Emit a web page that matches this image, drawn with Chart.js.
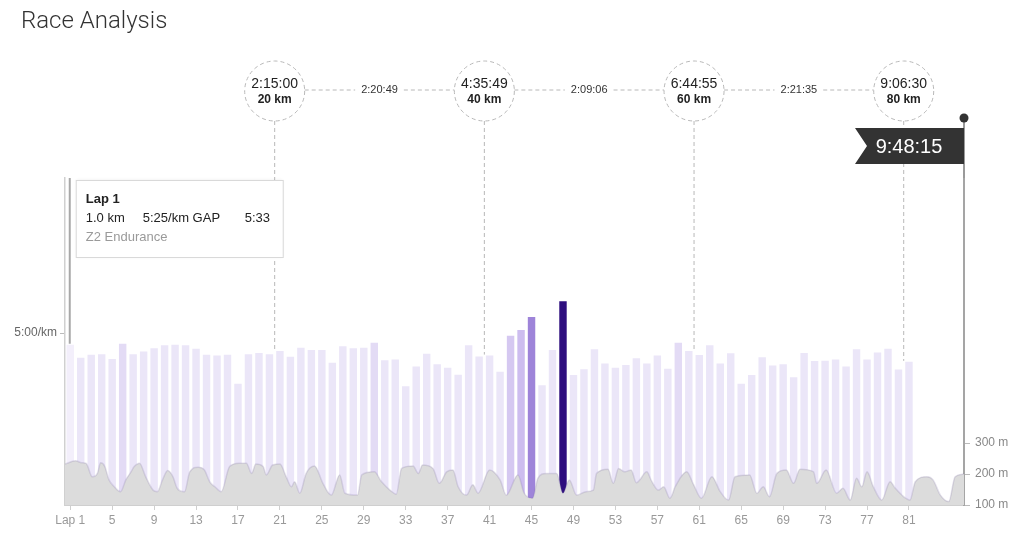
<!DOCTYPE html>
<html>
<head>
<meta charset="utf-8">
<title>Race Analysis</title>
<script src="https://cdn.jsdelivr.net/npm/chart.js@4.4.1/dist/chart.umd.min.js"></script>
<style>
  html, body { margin: 0; padding: 0; background: #fff; }
</style>
</head>
<body>
<canvas id="raceChart" width="1024" height="552"></canvas>
<script>
const chartTitle = 'Race Analysis';
const lapDistanceKm = 1.0;
const raceTotalKm = 85.75;
const finishTime = '9:48:15';

// grade adjusted pace per lap, seconds per km
const lapGapPace = [
  320, 348, 341, 340, 351, 318, 340, 334, 327, 321,
  320, 321, 328, 341, 343, 341, 422, 340, 337, 340,
  333, 346, 326, 331, 331, 360, 323, 327, 326, 316,
  354, 352, 431, 370, 339, 364, 373, 393, 321, 345,
  343, 384, 303, 293, 273, 427, 331, 252, 394, 377,
  329, 362, 373, 366, 349, 362, 343, 376, 316, 333,
  342, 321, 362, 338, 422, 394, 347, 367, 364, 401,
  337, 356, 355, 352, 370, 329, 352, 336, 328, 378,
  358
];

// elevation profile
const elevKm = [
  0, 1.0, 1.6, 2.0, 2.6, 3.1, 3.4, 3.8, 4.2, 4.7,
  5.3, 5.8, 6.3, 6.6, 7.1, 7.7, 8.4, 8.8, 9.3, 9.8,
  10.3, 10.7, 11.4, 11.9, 12.7, 13.3, 13.8, 14.3, 14.9, 15.7,
  16.6, 17.3, 17.8, 18.2, 18.9, 19.2, 19.8, 20.5, 21.1, 21.6,
  21.9, 22.4, 23.0, 23.8, 24.6, 25.4, 26.2, 26.7, 27.9, 28.3,
  29.5, 30.2, 31.0, 31.6, 32.1, 33.2, 33.7, 34.1, 35.1, 35.7,
  36.4, 37.0, 37.5, 38.3, 38.9, 39.4, 40.5, 41.5, 42.1, 43.2,
  43.8, 44.6, 45.1, 45.9, 46.9, 47.5, 48.1, 48.8, 49.7, 50.4,
  50.7, 51.8, 52.3, 52.8, 53.4, 54.0, 54.5, 55.5, 55.9, 56.6,
  57.1, 57.7, 58.2, 59.3, 59.9, 60.7, 61.7, 62.5, 63.3, 63.9,
  65.3, 66.0, 66.6, 67.2, 67.9, 68.8, 69.5, 70.1, 71.4, 71.7,
  72.6, 73.6, 74.2, 74.9, 75.5, 76.0, 76.5, 77.1, 77.9, 78.7,
  79.2, 80.0, 80.6, 81.1, 82.2, 82.8, 83.5, 84.3, 84.9, 85.75
];
const elevM = [
  232, 243, 236, 235, 191, 203, 236, 224, 181, 159,
  143, 181, 207, 224, 235, 191, 148, 143, 181, 211,
  191, 154, 143, 207, 222, 213, 175, 159, 143, 224,
  235, 235, 202, 232, 224, 197, 229, 232, 191, 159,
  175, 138, 202, 226, 170, 132, 197, 138, 132, 197,
  207, 175, 148, 135, 218, 226, 202, 229, 218, 170,
  207, 213, 159, 132, 165, 138, 213, 181, 132, 197,
  138, 122, 186, 202, 202, 138, 181, 132, 143, 148,
  202, 215, 170, 218, 207, 213, 172, 207, 181, 148,
  159, 122, 159, 207, 170, 122, 191, 143, 116, 191,
  197, 138, 159, 127, 202, 213, 170, 215, 207, 170,
  213, 138, 154, 116, 186, 159, 207, 159, 116, 175,
  154, 127, 116, 175, 191, 181, 132, 111, 191, 200
];

const splitKm = [20, 40, 60, 80];
const splitTimes = ['2:15:00', '4:35:49', '6:44:55', '9:06:30'];
const splitGaps = ['2:20:49', '2:09:06', '2:21:35'];

const lapTickNumbers = [1, 5, 9, 13, 17, 21, 25, 29, 33, 37, 41, 45, 49, 53, 57, 61, 65, 69, 73, 77, 81];
const paceTickSec = [300];
const paceTickLabels = ['5:00/km'];
const elevTicks = [100, 200, 300];

// hovered lap info box
const hoverLap = 1;
const hoverRow = ['1.0 km', '5:25/km GAP', '5:33'];
const hoverZone = 'Z2 Endurance';

const FONT = "'Liberation Sans', Arial, sans-serif";
const toSpeed = s => 3600 / s;

function lapColor(pace, i) {
  if (i + 1 === hoverLap) return '#f3effb';
  if (pace < 260) return '#2e0e7e';
  if (pace < 285) return '#9e84d9';
  if (pace < 300) return '#cdbdef';
  if (pace < 310) return '#d5c8f1';
  if (pace < 319) return '#e3dbf5';
  return '#ebe6f8';
}

const raceOverlay = {
  id: 'raceOverlay',
  afterDraw(chart) {
    const { ctx, chartArea, scales } = chart;
    const x = scales.x, yP = scales.pace;
    const barTop = lap => yP.getPixelForValue(toSpeed(lapGapPace[lap - 1]));
    ctx.save();

    // title
    ctx.font = "300 24px Roboto, " + FONT;
    ctx.fillStyle = '#333';
    ctx.textAlign = 'left';
    ctx.textBaseline = 'middle';
    ctx.fillText(chartTitle, 21, 22);

    // split circles
    const cy = 91, r = 30;
    ctx.strokeStyle = '#b8b8b8';
    ctx.lineWidth = 1;
    ctx.setLineDash([4, 3]);
    splitKm.forEach((km, i) => {
      const cx = x.getPixelForValue(km);
      const lap = Math.round(km / lapDistanceKm);
      const endY = Math.min(barTop(lap), barTop(lap + 1));
      ctx.beginPath();
      ctx.moveTo(cx, cy + r);
      ctx.lineTo(cx, endY);
      ctx.stroke();
      ctx.beginPath();
      ctx.arc(cx, cy, r, 0, Math.PI * 2);
      ctx.stroke();
    });
    ctx.textAlign = 'center';
    for (let i = 0; i < splitGaps.length; i++) {
      const a = x.getPixelForValue(splitKm[i]) + r;
      const b = x.getPixelForValue(splitKm[i + 1]) - r;
      const mid = (a + b) / 2;
      ctx.font = '11px ' + FONT;
      const w = ctx.measureText(splitGaps[i]).width / 2 + 6;
      ctx.beginPath();
      ctx.moveTo(a, cy - 1);
      ctx.lineTo(mid - w, cy - 1);
      ctx.moveTo(mid + w, cy - 1);
      ctx.lineTo(b, cy - 1);
      ctx.stroke();
      ctx.fillStyle = '#333';
      ctx.fillText(splitGaps[i], mid, cy - 1);
    }
    ctx.setLineDash([]);
    splitKm.forEach((km, i) => {
      const cx = x.getPixelForValue(km);
      ctx.fillStyle = '#222';
      ctx.font = '14px ' + FONT;
      ctx.fillText(splitTimes[i], cx, cy - 7);
      ctx.font = 'bold 12px ' + FONT;
      ctx.fillText(km + ' km', cx, cy + 9);
    });

    // finish flag
    const fx = x.getPixelForValue(raceTotalKm);
    ctx.strokeStyle = '#9a9a9a';
    ctx.lineWidth = 2;
    ctx.beginPath();
    ctx.moveTo(fx, 118);
    ctx.lineTo(fx, chartArea.top);
    ctx.stroke();
    ctx.fillStyle = '#333';
    ctx.beginPath();
    ctx.arc(fx, 118, 4.5, 0, Math.PI * 2);
    ctx.fill();
    ctx.beginPath();
    ctx.moveTo(fx, 128);
    ctx.lineTo(fx - 109, 128);
    ctx.lineTo(fx - 97, 146);
    ctx.lineTo(fx - 109, 164);
    ctx.lineTo(fx, 164);
    ctx.closePath();
    ctx.fill();
    ctx.fillStyle = '#fff';
    ctx.font = '20px ' + FONT;
    ctx.fillText(finishTime, fx - 55, 147);

    // hovered lap marker + info box
    const hx = x.getPixelForValue((hoverLap - 0.5) * lapDistanceKm) - 0.5;
    ctx.strokeStyle = '#a8a8a8';
    ctx.lineWidth = 2;
    ctx.beginPath();
    ctx.moveTo(hx, chartArea.top);
    ctx.lineTo(hx, barTop(hoverLap));
    ctx.stroke();

    const bx = hx + 6, by = chartArea.top + 2, bw = 207, bh = 77;
    ctx.shadowColor = 'rgba(0,0,0,0.08)';
    ctx.shadowBlur = 3;
    ctx.fillStyle = '#fff';
    ctx.fillRect(bx, by, bw, bh);
    ctx.shadowColor = 'transparent';
    ctx.strokeStyle = '#d9d9d9';
    ctx.lineWidth = 1;
    ctx.strokeRect(bx + 0.5, by + 0.5, bw, bh);

    ctx.textAlign = 'left';
    ctx.fillStyle = '#222';
    ctx.font = 'bold 13px ' + FONT;
    ctx.fillText('Lap ' + hoverLap, bx + 10, by + 19);
    ctx.font = '13px ' + FONT;
    ctx.fillText(hoverRow[0], bx + 10, by + 38);
    ctx.fillText(hoverRow[1], bx + 67, by + 38);
    ctx.fillText(hoverRow[2], bx + 169, by + 38);
    ctx.fillStyle = '#9a9a9a';
    ctx.fillText(hoverZone, bx + 10, by + 57);

    ctx.restore();
  }
};

const paceAxisMax = toSpeed(paceTickSec[0]) * 327 / 172;
const elevAxisMax = 100 + 100 * 327 / 31;

new Chart(document.getElementById('raceChart'), {
  type: 'bar',
  data: {
    datasets: [
      {
        type: 'line',
        label: 'Elevation',
        data: elevKm.map((km, i) => ({ x: km, y: elevM[i] })),
        xAxisID: 'x',
        yAxisID: 'elev',
        fill: 'start',
        backgroundColor: '#dcdcdc',
        borderColor: 'rgba(120, 105, 160, 0.2)',
        borderWidth: 1.5,
        pointRadius: 0,
        cubicInterpolationMode: 'monotone',
        order: 1
      },
      {
        type: 'bar',
        label: 'GAP',
        data: lapGapPace.map((p, i) => ({ x: (i + 0.5) * lapDistanceKm, y: toSpeed(p) })),
        xAxisID: 'x',
        yAxisID: 'pace',
        backgroundColor: lapGapPace.map(lapColor),
        borderColor: 'rgba(255, 255, 255, 0.45)',
        borderWidth: 1,
        barPercentage: 1,
        categoryPercentage: 0.9,
        order: 2
      }
    ]
  },
  options: {
    responsive: false,
    animation: false,
    events: [],
    layout: { padding: { top: 178, left: 0, right: 0, bottom: 0 } },
    plugins: {
      legend: { display: false },
      tooltip: { enabled: false },
      title: { display: false }
    },
    scales: {
      x: {
        type: 'linear',
        min: 0,
        max: raceTotalKm,
        offset: false,
        z: 1,
        grid: { offset: false, drawOnChartArea: false, drawTicks: true, tickLength: 5, color: '#cfcfcf' },
        border: { color: '#cfcfcf', width: 2 },
        afterBuildTicks: axis => {
          axis.ticks = lapTickNumbers.map(n => ({ value: (n - 0.5) * lapDistanceKm }));
        },
        ticks: {
          autoSkip: false,
          maxRotation: 0,
          color: '#999',
          padding: 3,
          font: { family: FONT, size: 12 },
          callback: (v, i) => (i === 0 ? 'Lap ' : '') + lapTickNumbers[i]
        },
        afterFit: axis => { axis.height = 47; }
      },
      pace: {
        position: 'left',
        min: 0,
        max: paceAxisMax,
        z: 1,
        grid: { drawOnChartArea: false, drawTicks: true, tickLength: 5, color: '#bbb' },
        border: { color: '#d0d0d0', width: 1.5 },
        afterBuildTicks: axis => {
          axis.ticks = paceTickSec.map(s => ({ value: toSpeed(s) }));
        },
        ticks: {
          color: '#666',
          padding: 3,
          font: { family: FONT, size: 12 },
          callback: (v, i) => paceTickLabels[i]
        },
        afterFit: axis => { axis.width = 65; }
      },
      elev: {
        position: 'right',
        min: 100,
        max: elevAxisMax,
        z: 1,
        grid: { drawOnChartArea: false, drawTicks: true, tickLength: 6, color: '#bbb' },
        border: { color: '#a5a5a5', width: 2 },
        afterBuildTicks: axis => {
          axis.ticks = elevTicks.map(v => ({ value: v }));
        },
        ticks: {
          color: '#888',
          padding: 5,
          font: { family: FONT, size: 12 },
          callback: v => v + ' m'
        },
        afterFit: axis => { axis.width = 60; }
      }
    }
  },
  plugins: [raceOverlay]
});
</script>
</body>
</html>
